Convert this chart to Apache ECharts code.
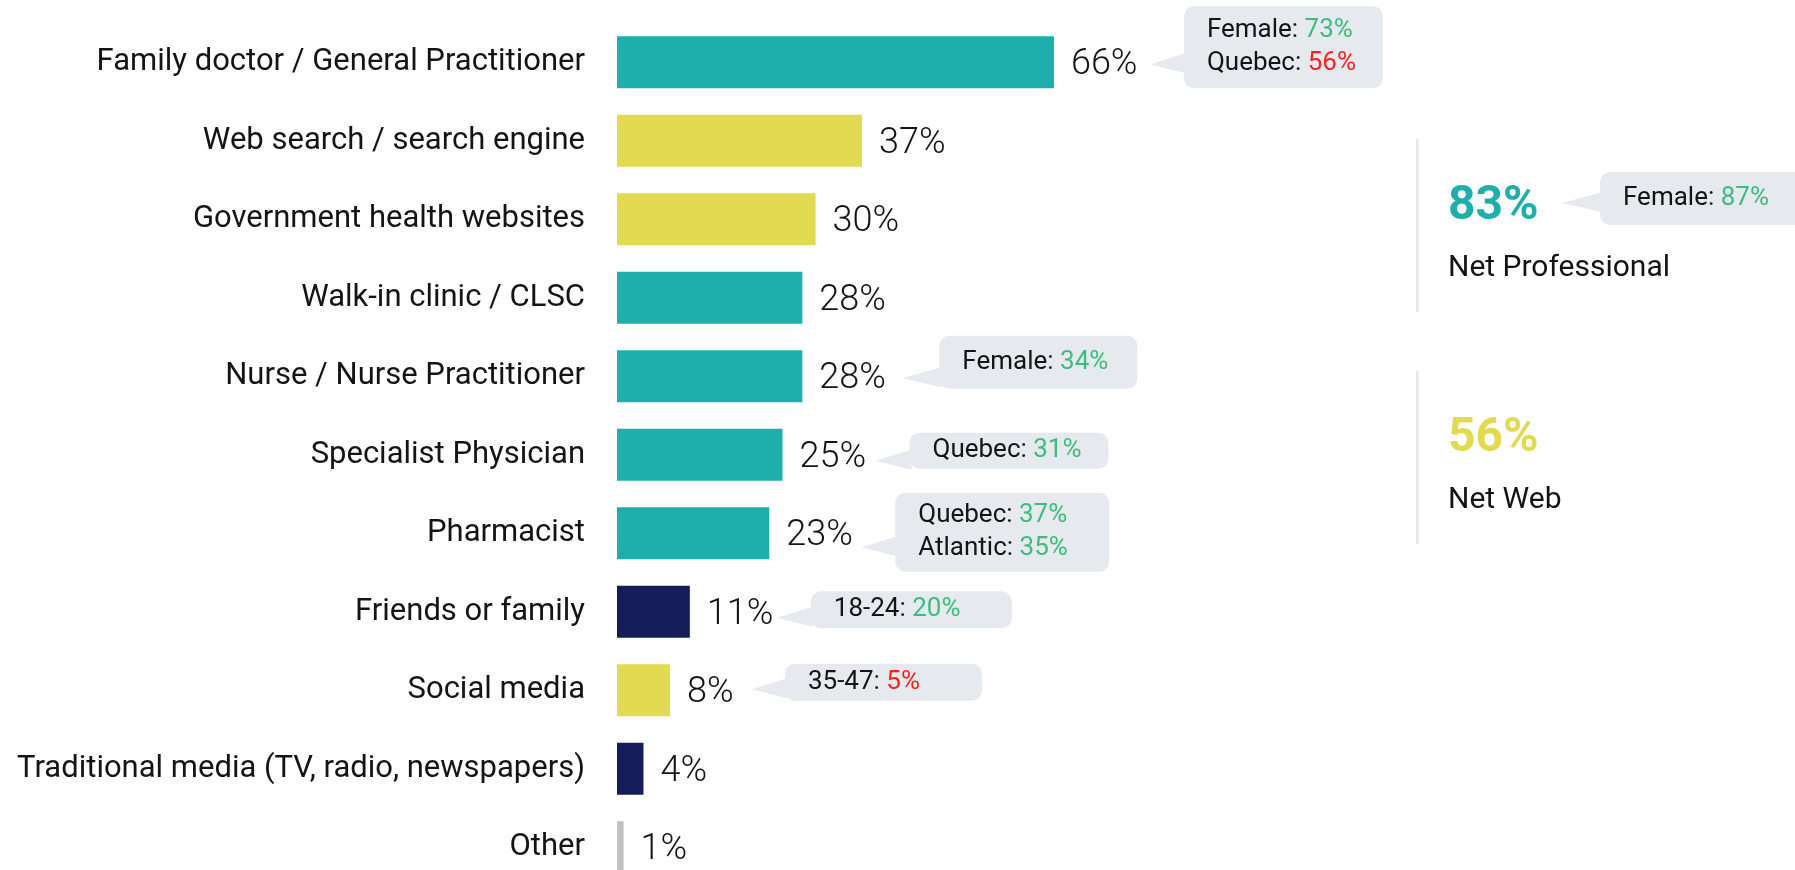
<!DOCTYPE html>
<html>
<head>
<meta charset="utf-8">
<script src="https://cdn.jsdelivr.net/npm/echarts@6/dist/echarts.min.js"></script>
<style>
  html, body { margin: 0; padding: 0; background: #fff; }
  #main { width: 1795px; height: 870px; }
</style>
</head>
<body>
<div id="main"></div>
<script>
// data
var categories = [
  'Family doctor / General Practitioner',
  'Web search / search engine',
  'Government health websites',
  'Walk-in clinic / CLSC',
  'Nurse / Nurse Practitioner',
  'Specialist Physician',
  'Pharmacist',
  'Friends or family',
  'Social media',
  'Traditional media (TV, radio, newspapers)',
  'Other'
];
var values = [66, 37, 30, 28, 28, 25, 23, 11, 8, 4, 1];
var sourceType = ['pro', 'web', 'web', 'pro', 'pro', 'pro', 'pro', 'people', 'web', 'people', 'other'];

// subgroup call-outs (row index into categories)
var calloutRows = [0, 4, 5, 6, 7, 8];
var calloutLabels = [['Female', 'Quebec'], ['Female'], ['Quebec'], ['Quebec', 'Atlantic'], ['18-24'], ['35-47']];
var calloutValues = [[73, 56], [34], [31], [37, 35], [20], [5]];

// net totals on the right
var netLabels = ['Net Professional', 'Net Web'];
var netValues = [83, 56];
var netTypes = ['pro', 'web'];
var netCalloutLabels = [['Female'], []];
var netCalloutValues = [[87], []];

// styles
var typeColors = { pro: '#1eafad', web: '#e2da50', people: '#141c5a', other: '#c2c2c2' };
var bubbleColor = '#e6e9ee';
var upColor = '#3dbd7d';
var downColor = '#ff1f1f';
var textColor = '#141414';
var font = 'Roboto, "Open Sans", sans-serif';

// tip offset from bar end, bubble size and offsets
var calloutLayout = [
  { tip: 96, tipDy: 2, gap: 34, w: 199, h: 82, dy: -15 },
  { tip: 100, tipDy: 2, gap: 37, w: 198, h: 53, dy: -14 },
  { tip: 93, tipDy: 6, gap: 34, w: 199, h: 36, dy: -4 },
  { tip: 92, tipDy: 14, gap: 34, w: 214, h: 79, dy: -1 },
  { tip: 87, tipDy: 6, gap: 34, w: 201, h: 37, dy: -2 },
  { tip: 82, tipDy: -1, gap: 33, w: 197, h: 37, dy: -8 }
];

var chart = echarts.init(document.getElementById('main'), null, { renderer: 'canvas' });

var barData = values.map(function (v, i) {
  return { value: v, itemStyle: { color: typeColors[sourceType[i]] } };
});

chart.setOption({
  animation: false,
  grid: { left: 617, top: 23, width: 662, height: 863.5, containLabel: false, outerBoundsMode: 'none' },
  xAxis: { type: 'value', min: 0, max: 100, show: false },
  yAxis: {
    type: 'category',
    inverse: true,
    data: categories,
    axisLine: { show: false },
    axisTick: { show: false },
    splitLine: { show: false },
    axisLabel: { margin: 32, fontSize: 31, color: textColor, fontFamily: font, padding: [6, 0, 0, 0] }
  },
  series: [{
    type: 'bar',
    data: barData,
    barWidth: 52,
    label: {
      show: true,
      position: 'right',
      distance: 17,
      offset: [0, 3],
      formatter: '{c}%',
      fontSize: 36,
      fontWeight: 300,
      color: textColor,
      fontFamily: font
    }
  }]
});

function richLines(labels, vals, base) {
  return labels.map(function (l, k) {
    return '{t|' + l + ': }{' + (vals[k] > base ? 'g' : 'r') + '|' + vals[k] + '%}';
  }).join('\n');
}

var richStyle = {
  t: { fill: textColor, fontSize: 26, fontFamily: font, lineHeight: 33 },
  g: { fill: upColor, fontSize: 26, fontFamily: font, lineHeight: 33 },
  r: { fill: downColor, fontSize: 26, fontFamily: font, lineHeight: 33 }
};

function bubble(tipX, tipY, boxX, boxY, w, h, text) {
  return [
    { type: 'polygon', shape: { points: [[tipX, tipY], [boxX + 2, tipY - 11], [boxX + 2, tipY + 9]] }, style: { fill: bubbleColor } },
    { type: 'rect', shape: { x: boxX, y: boxY, width: w, height: h, r: 10 }, style: { fill: bubbleColor } },
    { type: 'text', x: boxX + 23, y: boxY + h / 2, style: { text: text, rich: richStyle, verticalAlign: 'middle', align: 'left' } }
  ];
}

var graphics = [];
calloutRows.forEach(function (row, i) {
  var p = chart.convertToPixel({ xAxisIndex: 0, yAxisIndex: 0 }, [values[row], row]);
  var L = calloutLayout[i];
  var tipX = p[0] + L.tip;
  var tipY = p[1] + L.tipDy;
  var boxX = tipX + L.gap;
  var boxY = p[1] + L.dy - L.h / 2;
  graphics = graphics.concat(bubble(tipX, tipY, boxX, boxY, L.w, L.h, richLines(calloutLabels[i], calloutValues[i], values[row])));
});

// net panel
var netX = 1448;
var netTop = [207, 439];
netLabels.forEach(function (name, i) {
  var y = netTop[i];
  graphics.push({ type: 'rect', shape: { x: netX - 32, y: y - 68, width: 2.5, height: 173 }, style: { fill: '#e4e7ec' } });
  graphics.push({ type: 'text', x: netX, y: y, style: { text: netValues[i] + '%', fill: typeColors[netTypes[i]], fontSize: 48, fontWeight: 'bold', fontFamily: font, verticalAlign: 'middle' } });
  graphics.push({ type: 'text', x: netX, y: y + 61, style: { text: name, fill: textColor, fontSize: 30, fontFamily: font, verticalAlign: 'middle' } });
  if (netCalloutLabels[i].length) {
    graphics = graphics.concat(bubble(netX + 114, y - 4, netX + 152, y - 35, 205, 53, richLines(netCalloutLabels[i], netCalloutValues[i], netValues[i])));
  }
});

chart.setOption({ graphic: graphics });
window.addEventListener('resize', chart.resize);
</script>
</body>
</html>
